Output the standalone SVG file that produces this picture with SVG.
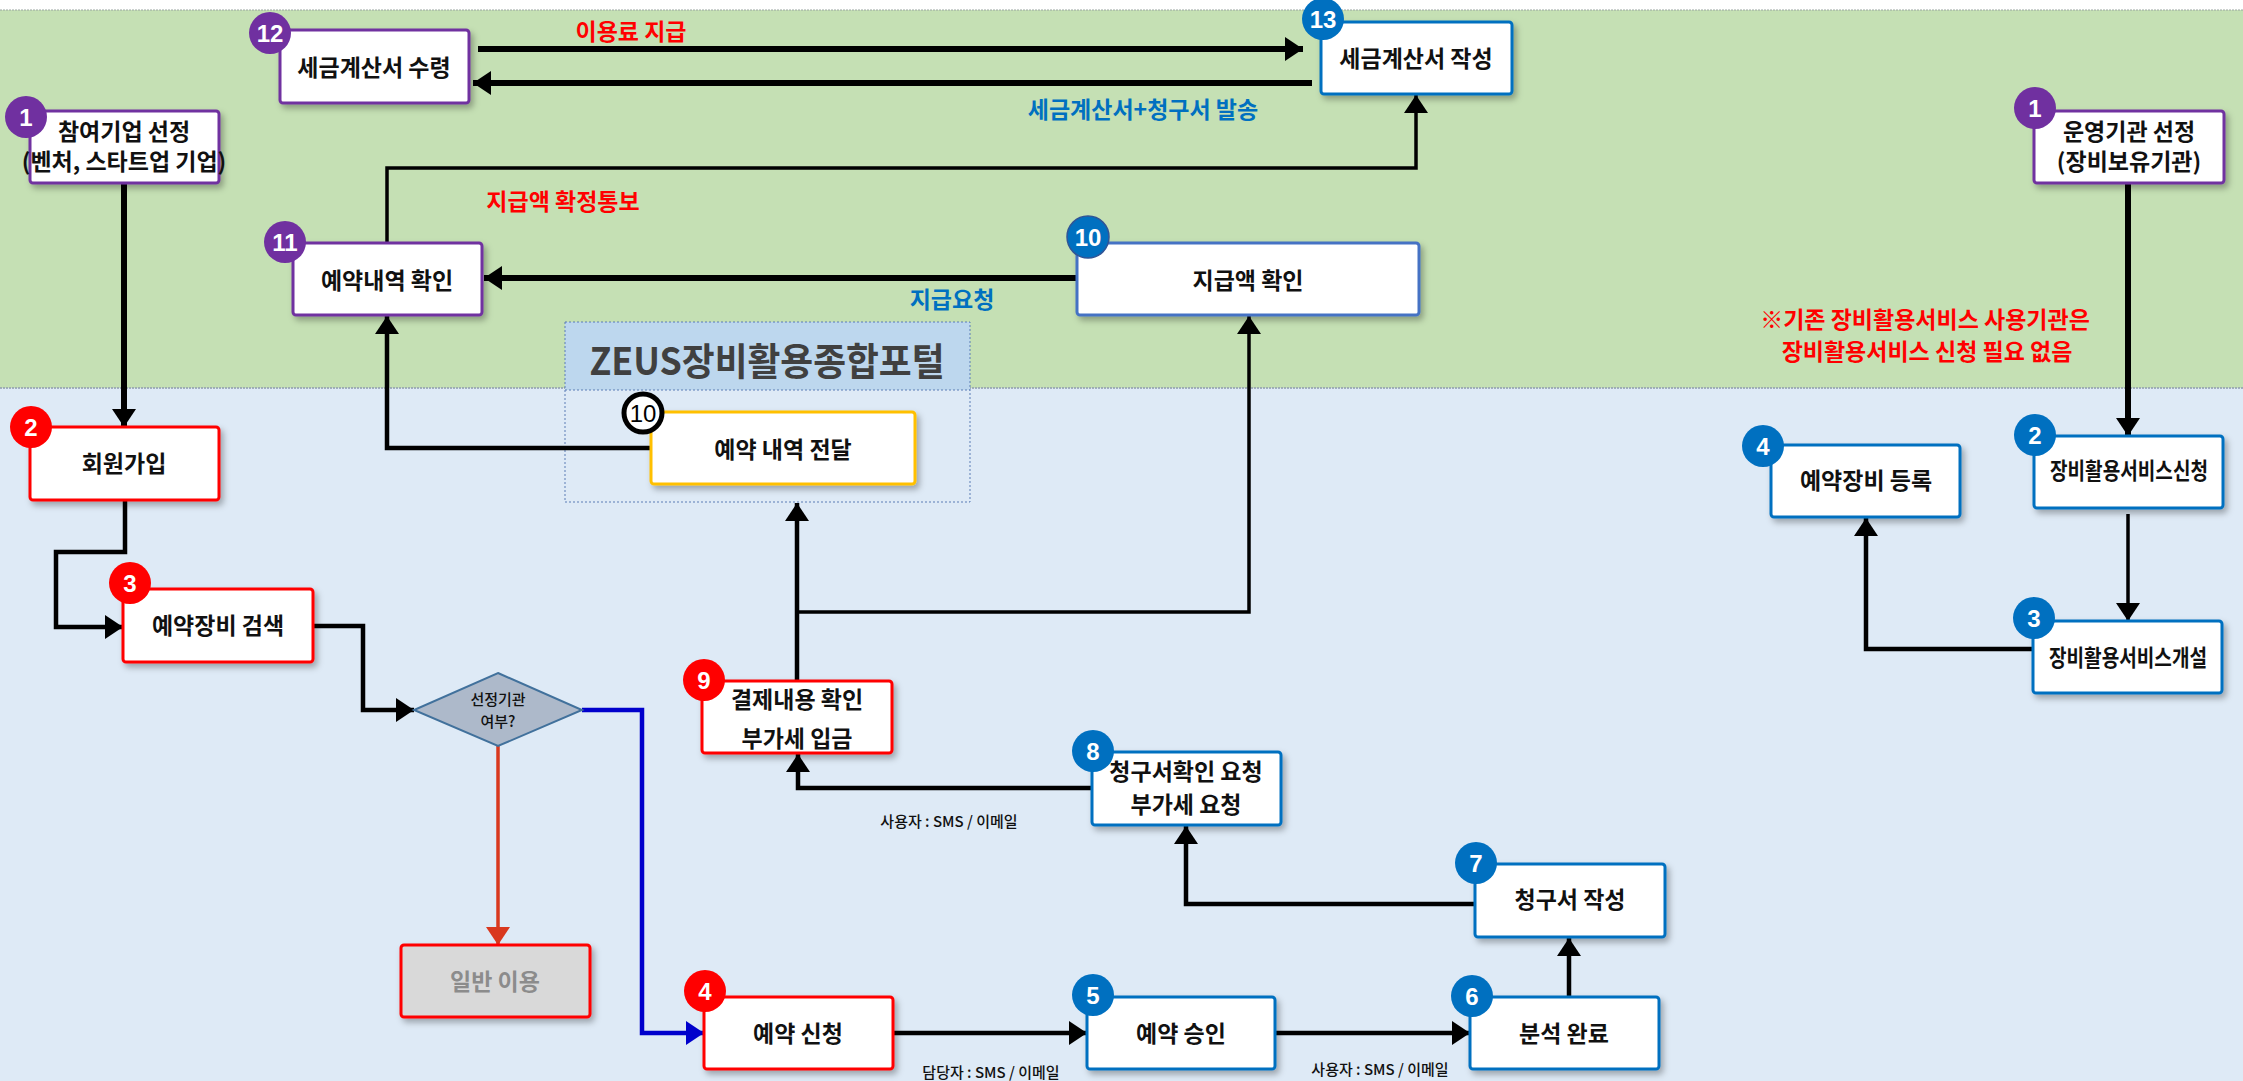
<svg xmlns="http://www.w3.org/2000/svg" width="2243" height="1081" viewBox="0 0 2243 1081">
<style>
.nt{font-family:"Noto Sans CJK KR","Noto Sans",sans-serif;font-size:23px;font-weight:700;fill:#111;text-anchor:middle;dominant-baseline:central;}
.lb{font-family:"Noto Sans CJK KR","Noto Sans",sans-serif;font-size:23px;font-weight:700;text-anchor:middle;dominant-baseline:central;}
.sm{font-family:"Noto Sans CJK KR","Noto Sans",sans-serif;font-size:15px;font-weight:500;fill:#111;text-anchor:middle;dominant-baseline:central;}
.red{fill:#FF0000;}
.blu{fill:#0070C0;}
.box{fill:#fff;stroke-width:3;filter:url(#sh);}
.pur{stroke:#7030A0;}
.rdb{stroke:#FF0000;}
.blb{stroke:#0070C0;}
.bn{font-family:"Liberation Sans Narrow","Liberation Sans",sans-serif;font-size:24px;font-weight:700;fill:#fff;text-anchor:middle;dominant-baseline:central;}
.c{fill:none;stroke:#000;stroke-linejoin:miter;}
.th{stroke-width:6;marker-end:url(#ah);}
.md{stroke-width:4.5;marker-end:url(#ah);}
.tn{stroke-width:3.5;marker-end:url(#ah);}
</style>
<defs>
<filter id="sh" x="-10%" y="-10%" width="130%" height="140%">
<feDropShadow dx="3" dy="4" stdDeviation="3" flood-color="#000" flood-opacity="0.3"/>
</filter>
<marker id="ah" markerUnits="userSpaceOnUse" markerWidth="18" markerHeight="24" refX="18" refY="12" orient="auto"><path d="M0,0 L18,12 L0,24 z" fill="#000"/></marker>
<marker id="ahr" markerUnits="userSpaceOnUse" markerWidth="18" markerHeight="24" refX="18" refY="12" orient="auto"><path d="M0,0 L18,12 L0,24 z" fill="#D9381E"/></marker>
<marker id="ahb" markerUnits="userSpaceOnUse" markerWidth="18" markerHeight="24" refX="18" refY="12" orient="auto"><path d="M0,0 L18,12 L0,24 z" fill="#0000CC"/></marker>
</defs>

<!-- background -->
<rect x="0" y="0" width="2243" height="1081" fill="#fff"/>
<rect x="0" y="10" width="2243" height="378" fill="#C5E0B4"/>
<rect x="0" y="388" width="2243" height="693" fill="#DEEAF6"/>
<line x1="0" y1="10" x2="2243" y2="10" stroke="#9AA5A0" stroke-width="1" stroke-dasharray="2,1"/>
<line x1="0" y1="388" x2="2243" y2="388" stroke="#8E9AAE" stroke-width="1.5" stroke-dasharray="2,1"/>

<!-- ZEUS container -->
<g id="zeus">
<rect x="565" y="322" width="405" height="68" fill="#BDD7EE"/>
<rect x="565" y="322" width="405" height="180" fill="none" stroke="#5B7DB5" stroke-width="1" stroke-dasharray="2,2"/>
<line x1="565" y1="390" x2="970" y2="390" stroke="#5B7DB5" stroke-width="1" stroke-dasharray="2,2"/>
<text x="767" y="358" font-family="Noto Sans CJK KR, sans-serif" font-size="38" font-weight="700" fill="#404040" text-anchor="middle" dominant-baseline="central" textLength="355" lengthAdjust="spacingAndGlyphs">ZEUS장비활용종합포털</text>
</g>

<!-- connectors -->
<g id="connectors">
<path class="c th" d="M478,49 H1303"/>
<path class="c th" d="M1312,83 H473"/>
<path class="c tn" d="M387,243 V168 H1416 V95"/>
<path class="c th" d="M1077,278 H484"/>
<path class="c md" d="M651,448 H387 V316"/>
<path class="c th" d="M124,183 V427"/>
<path class="c md" d="M125,500 V552 H56 V627 H123"/>
<path class="c md" d="M313,626 H363 V710 H414"/>
<path class="c" d="M498,746 V945" style="stroke:#D9381E;stroke-width:3.5;marker-end:url(#ahr)"/>
<path class="c" d="M582,710 H642 V1033 H704" style="stroke:#0000CC;stroke-width:4.5;marker-end:url(#ahb)"/>
<path class="c md" d="M892,1033 H1087"/>
<path class="c md" d="M1275,1033 H1470"/>
<path class="c md" d="M1569,997 V938"/>
<path class="c md" d="M1475,904 H1186 V826"/>
<path class="c md" d="M1092,788 H798 V754"/>
<path class="c md" d="M797,681 V503"/>
<path class="c tn" d="M797,612 H1249 V316"/>
<path class="c th" d="M2128,183 V436"/>
<path class="c tn" d="M2128,514 V621"/>
<path class="c md" d="M2033,649 H1866 V518"/>
</g>

<!-- labels -->
<g id="labels">
<text class="lb red" x="631" y="30">이용료 지급</text>
<text class="lb blu" x="1143" y="108">세금계산서+청구서 발송</text>
<text class="lb red" x="563" y="200">지급액 확정통보</text>
<text class="lb blu" x="952" y="298">지급요청</text>
<text class="lb red" x="1925" y="318" font-size="25">※기존 장비활용서비스 사용기관은</text>
<text class="lb red" x="1927" y="350" font-size="25">장비활용서비스 신청 필요 없음</text>
<text class="sm" x="949" y="820">사용자 : SMS / 이메일</text>
<text class="sm" x="991" y="1071">담당자 : SMS / 이메일</text>
<text class="sm" x="1380" y="1068">사용자 : SMS / 이메일</text>
</g>

<!-- nodes -->
<g id="n12">
<rect class="box pur" x="280" y="30" width="189" height="73" rx="3"/>
<text class="nt" x="374" y="66">세금계산서 수령</text>
<circle cx="270" cy="33" r="21" fill="#7030A0"/>
<text class="bn" x="270" y="33">12</text>
</g>
<g id="n13">
<rect class="box blb" x="1321" y="22" width="191" height="72" rx="3"/>
<text class="nt" x="1416" y="57">세금계산서 작성</text>
<circle cx="1323" cy="19" r="21" fill="#0070C0"/>
<text class="bn" x="1323" y="19">13</text>
</g>
<g id="n1">
<rect class="box pur" x="30" y="111" width="189" height="72" rx="3"/>
<text class="nt" x="124" y="130" font-size="21">참여기업 선정</text>
<text class="nt" x="124" y="160" font-size="18">(벤처, 스타트업 기업)</text>
<circle cx="26" cy="117" r="21" fill="#7030A0"/>
<text class="bn" x="26" y="117">1</text>
</g>
<g id="n11">
<rect class="box pur" x="293" y="243" width="189" height="72" rx="3"/>
<text class="nt" x="387" y="279">예약내역 확인</text>
<circle cx="285" cy="242" r="21" fill="#7030A0"/>
<text class="bn" x="285" y="242">11</text>
</g>
<g id="n10">
<rect class="box" x="1077" y="243" width="342" height="72" rx="3" stroke="#4472C4"/>
<text class="nt" x="1248" y="279">지급액 확인</text>
<circle cx="1088" cy="237" r="21" fill="#0070C0" stroke="#2F5597" stroke-width="1.5"/>
<text class="bn" x="1088" y="237">10</text>
</g>
<g id="n10b">
<rect class="box" x="651" y="412" width="264" height="72" rx="3" stroke="#FFC000"/>
<text class="nt" x="783" y="448">예약 내역 전달</text>
<circle cx="643" cy="413" r="19" fill="#fff" stroke="#000" stroke-width="5"/>
<text class="bn" x="643" y="413" style="fill:#000;font-weight:400">10</text>
</g>
<g id="n2">
<rect class="box rdb" x="30" y="427" width="189" height="73" rx="3"/>
<text class="nt" x="124" y="462">회원가입</text>
<circle cx="31" cy="427" r="21" fill="#FF0000"/>
<text class="bn" x="31" y="427">2</text>
</g>
<g id="n3">
<rect class="box rdb" x="123" y="589" width="190" height="73" rx="3"/>
<text class="nt" x="218" y="624">예약장비 검색</text>
<circle cx="130" cy="583" r="21" fill="#FF0000"/>
<text class="bn" x="130" y="583">3</text>
</g>
<g id="decision">
<polygon points="498,673 582,710 498,746 414,710" fill="#ADB9CA" stroke="#41719C" stroke-width="2"/>
<text class="sm" x="498" y="698" font-size="14" fill="#222">선정기관</text>
<text class="sm" x="498" y="720" font-size="14" fill="#222">여부?</text>
</g>
<g id="n_general">
<rect class="box rdb" x="401" y="945" width="189" height="72" rx="3" style="fill:#D9D9D9"/>
<text class="nt" x="495" y="980" style="fill:#8C8C8C">일반 이용</text>
</g>
<g id="n9">
<rect class="box rdb" x="702" y="681" width="190" height="72" rx="3"/>
<text class="nt" x="797" y="698">결제내용 확인</text>
<text class="nt" x="797" y="737">부가세 입금</text>
<circle cx="704" cy="680" r="21" fill="#FF0000"/>
<text class="bn" x="704" y="680">9</text>
</g>
<g id="n8">
<rect class="box blb" x="1092" y="752" width="189" height="73" rx="3"/>
<text class="nt" x="1186" y="770" font-size="21">청구서확인 요청</text>
<text class="nt" x="1186" y="803" font-size="21">부가세 요청</text>
<circle cx="1093" cy="751" r="21" fill="#0070C0"/>
<text class="bn" x="1093" y="751">8</text>
</g>
<g id="n7">
<rect class="box blb" x="1475" y="864" width="190" height="73" rx="3"/>
<text class="nt" x="1570" y="898">청구서 작성</text>
<circle cx="1476" cy="863" r="21" fill="#0070C0"/>
<text class="bn" x="1476" y="863">7</text>
</g>
<g id="n4">
<rect class="box rdb" x="704" y="997" width="189" height="72" rx="3"/>
<text class="nt" x="798" y="1032">예약 신청</text>
<circle cx="705" cy="991" r="21" fill="#FF0000"/>
<text class="bn" x="705" y="991">4</text>
</g>
<g id="n5">
<rect class="box blb" x="1087" y="997" width="188" height="72" rx="3"/>
<text class="nt" x="1181" y="1032">예약 승인</text>
<circle cx="1093" cy="995" r="21" fill="#0070C0"/>
<text class="bn" x="1093" y="995">5</text>
</g>
<g id="n6">
<rect class="box blb" x="1470" y="997" width="189" height="72" rx="3"/>
<text class="nt" x="1564" y="1032">분석 완료</text>
<circle cx="1472" cy="996" r="21" fill="#0070C0"/>
<text class="bn" x="1472" y="996">6</text>
</g>
<g id="r1">
<rect class="box pur" x="2034" y="111" width="190" height="72" rx="3"/>
<text class="nt" x="2129" y="130" font-size="21">운영기관 선정</text>
<text class="nt" x="2129" y="160" font-size="18">(장비보유기관)</text>
<circle cx="2035" cy="108" r="21" fill="#7030A0"/>
<text class="bn" x="2035" y="108">1</text>
</g>
<g id="r2">
<rect class="box blb" x="2034" y="436" width="189" height="72" rx="3"/>
<text class="nt" x="2129" y="469" textLength="158" lengthAdjust="spacingAndGlyphs">장비활용서비스신청</text>
<circle cx="2035" cy="435" r="21" fill="#0070C0"/>
<text class="bn" x="2035" y="435">2</text>
</g>
<g id="r3">
<rect class="box blb" x="2033" y="621" width="189" height="72" rx="3"/>
<text class="nt" x="2128" y="656" textLength="158" lengthAdjust="spacingAndGlyphs">장비활용서비스개설</text>
<circle cx="2034" cy="618" r="21" fill="#0070C0"/>
<text class="bn" x="2034" y="618">3</text>
</g>
<g id="r4">
<rect class="box blb" x="1771" y="445" width="189" height="72" rx="3"/>
<text class="nt" x="1866" y="479">예약장비 등록</text>
<circle cx="1763" cy="446" r="21" fill="#0070C0"/>
<text class="bn" x="1763" y="446">4</text>
</g>
</svg>
